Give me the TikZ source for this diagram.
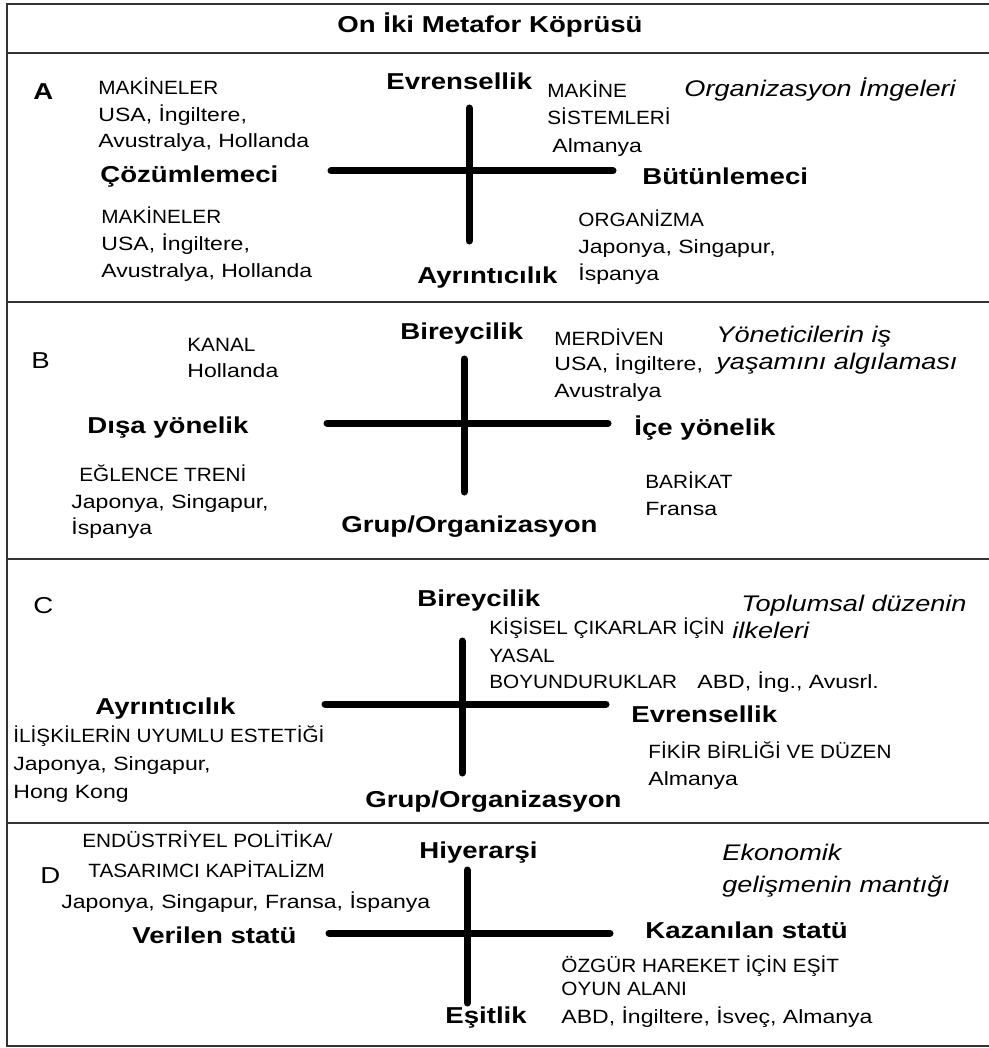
\documentclass[tikz,border=0pt]{standalone}
\usepackage{fontspec}
\setmainfont{Liberation Sans}[FakeStretch=1.2]
\newfontfamily\darfont{Liberation Sans}[FakeStretch=1.08]
\usepackage{tikz}
\tikzset{
metin/.style = {inner sep=0pt, anchor=base west},
kutup/.style = {metin, font=\fontsize{11.5}{13}\selectfont\bfseries},% eksen uclarindaki kavramlar
harf/.style = {metin, font=\fontsize{11.5}{13}\selectfont},% panel harfleri
ornek/.style = {metin, font=\fontsize{9.6}{11}\selectfont},% ulkeler
metafor/.style = {metin, font=\fontsize{9.6}{11}\darfont},% buyuk harfli metaforlar
imge/.style = {metin, font=\fontsize{11.3}{13}\selectfont\itshape},% sagdaki basliklar
eksen/.style = {line width=3.5pt, line cap=round},
cerceve/.style = {line width=1pt, black!80}
}

\begin{document}
\begin{tikzpicture}[x=0.5pt, y=-0.5pt]
\useasboundingbox (0,0) rectangle (989,1048);
% cerceve
\draw[cerceve] (989,4) -- (7,4) -- (7,1046) -- (989,1046);
\foreach \y in {53,302,559,823}
  \draw[cerceve] (7,\y) -- (989,\y);
\node[kutup, anchor=base] (baslik) at (490,33) {On İki Metafor Köprüsü};

% A
\node[kutup] (harfA) at (33,100) {A};
\coordinate (aN) at (469,108);
\coordinate (aS) at (469,241);
\coordinate (aW) at (331,171);
\coordinate (aE) at (613,171);
\draw[eksen] (aN) -- (aS);
\draw[eksen] (aW) -- (aE);
\node[kutup] (aEvr) at (386,90) {Evrensellik};
\node[kutup] (aCoz) at (100,183) {Çözümlemeci};
\node[kutup] (aBut) at (642,185) {Bütünlemeci};
\node[kutup] (aAyr) at (417,283) {Ayrıntıcılık};
\node[metafor] (aSol1) at (98,95) {MAKİNELER};
\node[ornek] (aSol2) at (98,122) {USA, İngiltere,};
\node[ornek] (aSol3) at (98,148) {Avustralya, Hollanda};
\node[metafor] (aSag1) at (547,98) {MAKİNE};
\node[metafor] (aSag2) at (547,125) {SİSTEMLERİ};
\node[ornek] (aSag3) at (552,153) {Almanya};
\node[metafor] (aAlt1) at (101,223) {MAKİNELER};
\node[ornek] (aAlt2) at (101,250) {USA, İngiltere,};
\node[ornek] (aAlt3) at (101,277) {Avustralya, Hollanda};
\node[metafor] (aOrg1) at (578,227) {ORGANİZMA};
\node[ornek] (aOrg2) at (578,253) {Japonya, Singapur,};
\node[ornek] (aOrg3) at (578,280) {İspanya};
\node[imge] (aImge) at (684,97) {Organizasyon İmgeleri};

% B
\node[harf] (harfB) at (31,368) {B};
\coordinate (bN) at (464,359);
\coordinate (bS) at (464,492);
\coordinate (bW) at (327,423);
\coordinate (bE) at (608,423);
\draw[eksen] (bN) -- (bS);
\draw[eksen] (bW) -- (bE);
\node[kutup] (bBir) at (400,339) {Bireycilik};
\node[kutup] (bDis) at (87,433) {Dışa yönelik};
\node[kutup] (bIce) at (634,435) {İçe yönelik};
\node[kutup] (bGrp) at (341,532) {Grup/Organizasyon};
\node[metafor] (bMer1) at (554,345) {MERDİVEN};
\node[ornek] (bMer2) at (554,370) {USA, İngiltere,};
\node[ornek] (bMer3) at (554,397) {Avustralya};
\node[metafor] (bKan1) at (187,351) {KANAL};
\node[ornek] (bKan2) at (187,377) {Hollanda};
\node[metafor] (bEgl1) at (79,481) {EĞLENCE TRENİ};
\node[ornek] (bEgl2) at (71,508) {Japonya, Singapur,};
\node[ornek] (bEgl3) at (71,534) {İspanya};
\node[metafor] (bBar1) at (645,488) {BARİKAT};
\node[ornek] (bBar2) at (645,515) {Fransa};
\node[imge] (bImge1) at (716,342) {Yöneticilerin iş};
\node[imge] (bImge2) at (716,369) {yaşamını algılaması};

% C
\node[harf] (harfC) at (33,613) {C};
\coordinate (cN) at (462,641);
\coordinate (cS) at (462,773);
\coordinate (cW) at (325,704);
\coordinate (cE) at (606,704);
\draw[eksen] (cN) -- (cS);
\draw[eksen] (cW) -- (cE);
\node[kutup] (cBir) at (417,606) {Bireycilik};
\node[kutup] (cAyr) at (95,714) {Ayrıntıcılık};
\node[kutup] (cEvr) at (631,722) {Evrensellik};
\node[kutup] (cGrp) at (365,807) {Grup/Organizasyon};
\node[metafor] (cKis1) at (489,634) {KİŞİSEL ÇIKARLAR İÇİN};
\node[metafor] (cKis2) at (489,662) {YASAL};
\node[metafor] (cKis3) at (489,688) {BOYUNDURUKLAR};
\node[ornek] (cAbd) at (697,688) {ABD, İng., Avusrl.};
\node[metafor] (cIli1) at (13,742) {İLİŞKİLERİN UYUMLU ESTETİĞİ};
\node[ornek] (cIli2) at (13,770) {Japonya, Singapur,};
\node[ornek] (cIli3) at (13,798) {Hong Kong};
\node[metafor] (cFik1) at (648,758) {FİKİR BİRLİĞİ VE DÜZEN};
\node[ornek] (cFik2) at (648,785) {Almanya};
\node[imge] (cImge1) at (741,611) {Toplumsal düzenin};
\node[imge] (cImge2) at (732,638) {ilkeleri};

% D
\node[harf] (harfD) at (40,883) {D};
\coordinate (dN) at (467,870);
\coordinate (dS) at (467,1003);
\coordinate (dW) at (329,933);
\coordinate (dE) at (610,933);
\draw[eksen] (dN) -- (dS);
\draw[eksen] (dW) -- (dE);
\node[kutup] (dHiy) at (419,858) {Hiyerarşi};
\node[kutup] (dVer) at (132,943) {Verilen statü};
\node[kutup] (dKaz) at (645,938) {Kazanılan statü};
\node[kutup] (dEsi) at (445,1023) {Eşitlik};
\node[metafor] (dEnd1) at (82,847) {ENDÜSTRİYEL POLİTİKA/};
\node[metafor] (dEnd2) at (88,877) {TASARIMCI KAPİTALİZM};
\node[ornek] (dEnd3) at (61,908) {Japonya, Singapur, Fransa, İspanya};
\node[metafor] (dOzg1) at (561,972) {ÖZGÜR HAREKET İÇİN EŞİT};
\node[metafor] (dOzg2) at (561,995) {OYUN ALANI};
\node[ornek] (dOzg3) at (561,1023) {ABD, İngiltere, İsveç, Almanya};
\node[imge] (dImge1) at (722,860) {Ekonomik};
\node[imge] (dImge2) at (722,892) {gelişmenin mantığı};
\end{tikzpicture}
\end{document}
